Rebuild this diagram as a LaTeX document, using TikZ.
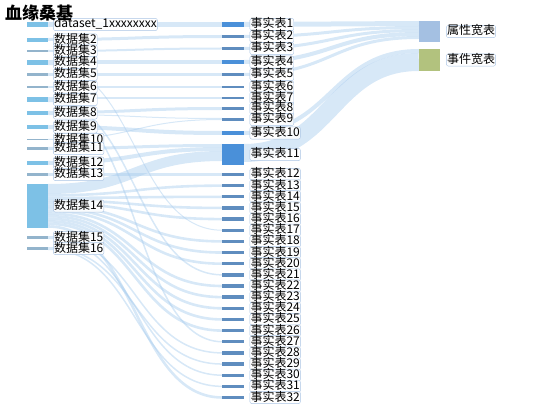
\documentclass[tikz,border=0pt]{standalone}
\usepackage{fontspec}
\newfontfamily\cjk{Noto Sans CJK SC}
\usetikzlibrary{positioning}
\definecolor{linkblue}{HTML}{A6CBED}
\definecolor{dsbright}{HTML}{7DC1E6}
\definecolor{dsgrey}{HTML}{93B4CC}
\definecolor{factbright}{HTML}{4A90D9}
\definecolor{factgrey}{HTML}{5F8DBF}
\definecolor{attrwide}{HTML}{A4C0E2}
\definecolor{eventwide}{HTML}{B2C27E}
\definecolor{lblborder}{HTML}{A9C4E4}

\begin{document}
\begin{tikzpicture}[x=1pt, y=-1pt,
  bar/.style={rectangle, inner sep=0pt, minimum width=21pt},
  dbar/.style={bar, fill=dsbright},
  dgbar/.style={bar, fill=dsgrey},
  fbar/.style={bar, fill=factbright},
  fgbar/.style={bar, fill=factgrey},
  lbl/.style={draw=lblborder, fill=white, fill opacity=0.85, text opacity=1,
    rounded corners=2pt, inner sep=0.6pt, text height=9pt, text depth=2pt,
    font=\cjk\fontsize{12}{12}\selectfont},
  link/.style={draw=linkblue, draw opacity=0.45}]
  \useasboundingbox (0,0) rectangle (550,420);

  % datasets
  \node[dbar, minimum height=5pt] (d1) at (37.5,24.5) {};
  \node[dbar, minimum height=4pt] (d2) at (37.5,40) {};
  \node[dgbar, minimum height=2pt] (d3) at (37.5,51) {};
  \node[dbar, minimum height=5pt] (d4) at (37.5,62.5) {};
  \node[dgbar, minimum height=3pt] (d5) at (37.5,74.5) {};
  \node[dgbar, minimum height=2pt] (d6) at (37.5,87) {};
  \node[dbar, minimum height=5pt] (d7) at (37.5,99.5) {};
  \node[dbar, minimum height=4pt] (d8) at (37.5,113) {};
  \node[dbar, minimum height=4pt] (d9) at (37.5,127) {};
  \node[dgbar, minimum height=1pt] (d10) at (37.5,139.5) {};
  \node[dgbar, minimum height=3pt] (d11) at (37.5,148.5) {};
  \node[dbar, minimum height=4pt] (d12) at (37.5,163) {};
  \node[dgbar, minimum height=3pt] (d13) at (37.5,174.5) {};
  \node[dbar, minimum height=44pt] (d14) at (37.5,206) {};
  \node[dgbar, minimum height=3pt] (d15) at (37.5,237.5) {};
  \node[dgbar, minimum height=3pt] (d16) at (37.5,248.5) {};

  % fact tables
  \node[fbar, minimum height=5pt] (f1) at (233,24.5) {};
  \node[fgbar, minimum height=3pt] (f2) at (233,36.5) {};
  \node[fgbar, minimum height=3pt] (f3) at (233,48.5) {};
  \node[fbar, minimum height=4pt] (f4) at (233,62) {};
  \node[fgbar, minimum height=3pt] (f5) at (233,74.5) {};
  \node[fgbar, minimum height=2pt] (f6) at (233,87) {};
  \node[fgbar, minimum height=2pt] (f7) at (233,98) {};
  \node[fgbar, minimum height=3pt] (f8) at (233,108.5) {};
  \node[fgbar, minimum height=3pt] (f9) at (233,119.5) {};
  \node[fbar, minimum height=4pt] (f10) at (233,133) {};
  \node[fbar, minimum height=21pt] (f11) at (233,154.5) {};
  \foreach \i in {12,...,32}
    \node[fgbar, minimum height=3pt] (f\i) at (233,{174.5+(\i-12)*11.15}) {};

  % wide tables
  \node[bar, fill=attrwide, minimum height=21pt] (w1) at (429.5,31.5) {};
  \node[bar, fill=eventwide, minimum height=22pt] (w2) at (429.5,60) {};

  % links dataset -> fact
  \begin{scope}[on background layer/.style={}]
  \draw[link, line width=5pt] (d1.east) .. controls +(88,0) and +(-88,0) .. (f1.west);
  \draw[link, line width=3pt] ([yshift=0.5pt]d2.east) .. controls +(88,0) and +(-88,0) .. (f2.west);
  \draw[link, line width=2pt] (d3.east) .. controls +(88,0) and +(-88,0) .. (f3.west);
  \draw[link, line width=4pt] ([yshift=0.5pt]d4.east) .. controls +(88,0) and +(-88,0) .. (f4.west);
  \draw[link, line width=1pt] ([yshift=-2pt]d4.east) .. controls +(88,0) and +(-88,0) .. (f17.west);
  \draw[link, line width=3pt] (d5.east) .. controls +(88,0) and +(-88,0) .. (f5.west);
  \draw[link, line width=2pt] (d6.east) .. controls +(88,0) and +(-88,0) .. (f6.west);
  \draw[link, line width=2pt] ([yshift=1.5pt]d7.east) .. controls +(88,0) and +(-88,0) .. (f7.west);
  \draw[link, line width=1.5pt] ([yshift=-0.25pt]d7.east) .. controls +(88,0) and +(-88,0) .. (f21.west);
  \draw[link, line width=1.5pt] ([yshift=-1.75pt]d7.east) .. controls +(88,0) and +(-88,0) .. (f27.west);
  \draw[link, line width=3pt] ([yshift=0.5pt]d8.east) .. controls +(88,0) and +(-88,0) .. (f8.west);
  \draw[link, line width=1pt] ([yshift=-1.5pt]d8.east) .. controls +(88,0) and +(-88,0) .. ([yshift=1pt]f9.west);
  \draw[link, line width=4pt] (d9.east) .. controls +(88,0) and +(-88,0) .. (f10.west);
  \draw[link, line width=1pt] (d10.east) .. controls +(88,0) and +(-88,0) .. (f9.west);
  \draw[link, line width=3pt] (d11.east) .. controls +(88,0) and +(-88,0) .. ([yshift=9pt]f11.west);
  \draw[link, line width=4pt] (d12.east) .. controls +(88,0) and +(-88,0) .. ([yshift=5.5pt]f11.west);
  \draw[link, line width=3pt] (d13.east) .. controls +(88,0) and +(-88,0) .. (f12.west);
  \draw[link, line width=10pt] ([yshift=17pt]d14.east) .. controls +(88,0) and +(-88,0) .. ([yshift=-1.5pt]f11.west);
  \foreach \t [count=\i] in {13,14,15,16,18,19,20,22,23,24,25,26,32}
    \draw[link, line width=2.6pt] ([yshift={(13.3-2.6*\i)*1pt}]d14.east)
      .. controls +(88,0) and +(-88,0) .. (f\t.west);
  \draw[link, line width=1.5pt] ([yshift=0.75pt]d15.east) .. controls +(88,0) and +(-88,0) .. (f28.west);
  \draw[link, line width=1.5pt] ([yshift=-0.75pt]d15.east) .. controls +(88,0) and +(-88,0) .. (f30.west);
  \draw[link, line width=1.5pt] ([yshift=0.75pt]d16.east) .. controls +(88,0) and +(-88,0) .. (f29.west);
  \draw[link, line width=1.5pt] ([yshift=-0.75pt]d16.east) .. controls +(88,0) and +(-88,0) .. (f31.west);

  % links fact -> wide
  \draw[link, line width=5pt] (f1.east) .. controls +(88,0) and +(-88,0) .. ([yshift=8pt]w1.west);
  \draw[link, line width=3pt] (f2.east) .. controls +(88,0) and +(-88,0) .. ([yshift=4pt]w1.west);
  \draw[link, line width=3pt] (f3.east) .. controls +(88,0) and +(-88,0) .. ([yshift=1pt]w1.west);
  \draw[link, line width=4pt] (f4.east) .. controls +(88,0) and +(-88,0) .. ([yshift=-2.5pt]w1.west);
  \draw[link, line width=3pt] (f5.east) .. controls +(88,0) and +(-88,0) .. ([yshift=-6pt]w1.west);
  \draw[link, line width=4pt] (f10.east) .. controls +(88,0) and +(-88,0) .. ([yshift=9pt]w2.west);
  \draw[link, line width=18pt] ([yshift=1.5pt]f11.east) .. controls +(88,0) and +(-88,0) .. ([yshift=-2pt]w2.west);
  \end{scope}

  % bars again on top of links
  \foreach \n in {d1,d2,d4,d7,d8,d9,d12,d14}
    \fill[dsbright] (\n.north west) rectangle (\n.south east);
  \foreach \n in {d3,d5,d6,d10,d11,d13,d15,d16}
    \fill[dsgrey] (\n.north west) rectangle (\n.south east);
  \foreach \n in {f1,f4,f10,f11}
    \fill[factbright] (\n.north west) rectangle (\n.south east);
  \foreach \n in {2,3,5,6,7,8,9,12,13,14,15,16,17,18,19,20,21,22,23,24,25,26,27,28,29,30,31,32}
    \fill[factgrey] (f\n.north west) rectangle (f\n.south east);
  \fill[attrwide] (w1.north west) rectangle (w1.south east);
  \fill[eventwide] (w2.north west) rectangle (w2.south east);

  % labels
  \node[lbl, right=5pt of d1] (d1-l) {dataset\_1xxxxxxxx};
  \foreach \i in {2,...,16}
    \node[lbl, right=5pt of d\i] (d\i-l) {数据集\i};
  \foreach \i in {1,...,32}
    \node[lbl, right=6pt of f\i] (f\i-l) {事实表\i};
  \node[lbl, right=6pt of w1] (w1-l) {属性宽表};
  \node[lbl, right=6pt of w2] (w2-l) {事件宽表};

  \node[anchor=west, inner sep=0pt, font=\cjk\bfseries\fontsize{17}{17}\selectfont] (title) at (5,13) {血缘桑基};
\end{tikzpicture}
\end{document}
